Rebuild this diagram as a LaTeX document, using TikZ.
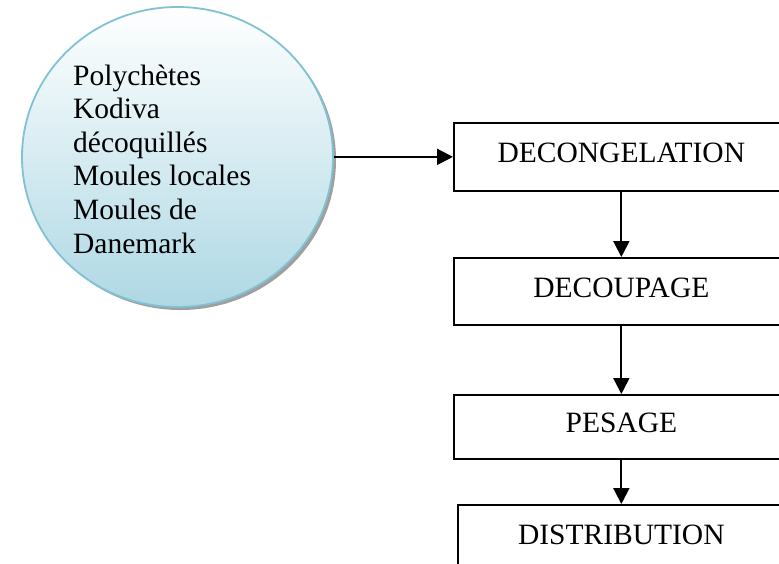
\documentclass[tikz,border=0pt]{standalone}
\usepackage{fontspec}
\setmainfont{Liberation Serif}
\usetikzlibrary{shapes.geometric,arrows.meta}
\definecolor{circtop}{RGB}{255,255,255}
\definecolor{circbot}{RGB}{174,216,228}
\definecolor{circline}{RGB}{128,194,211}
\tikzset{
  stepbox/.style={draw=black,line width=1.7pt,rectangle,minimum width=335pt,inner sep=0pt,
    text height=20pt,text depth=8pt,font=\fontsize{29.5}{33.7}\selectfont},
  arr/.style={draw=black,line width=2pt,-{Triangle[length=16pt,width=16pt]}},
  bubble/.style={ellipse,draw=circline,line width=1.8pt,top color=circtop,bottom color=circbot,
    minimum width=311pt,minimum height=300pt,inner sep=0pt},
}
\begin{document}
\begin{tikzpicture}[x=1pt,y=-1pt]
\useasboundingbox (0,0) rectangle (779,563);
\clip (0,0) rectangle (779,563);
\fill[white] (0,0) rectangle (779,563);
% shadow of the bubble
\fill[gray!75] (180.5,160) ellipse [x radius=155.5pt, y radius=150pt];
\node[bubble] (circ) at (177.5,157) {};
\node[anchor=base west,align=left,inner sep=0pt,font=\fontsize{29.5}{33.6}\selectfont] (txt) at (73,253)
  {Polychètes\\Kodiva\\décoquillés\\Moules locales\\Moules de\\Danemark};
\node[stepbox,minimum height=68pt,anchor=north west] (dec) at (453,122) {DECONGELATION};
\node[stepbox,minimum height=67pt,anchor=north west] (dcp) at (453,257) {DECOUPAGE};
\node[stepbox,minimum height=64pt,anchor=north west] (pes) at (453,394) {PESAGE};
\node[stepbox,minimum height=68pt,minimum width=327pt,anchor=north west] (dis) at (457,504) {DISTRIBUTION};
\draw[arr] (circ.east |- dec.west) -- (dec.west);
\draw[arr] (dec.south) -- (dcp.north);
\draw[arr] (dcp.south) -- (pes.north);
\draw[arr] (pes.south) -- (dis.north);
\end{tikzpicture}
\end{document}
